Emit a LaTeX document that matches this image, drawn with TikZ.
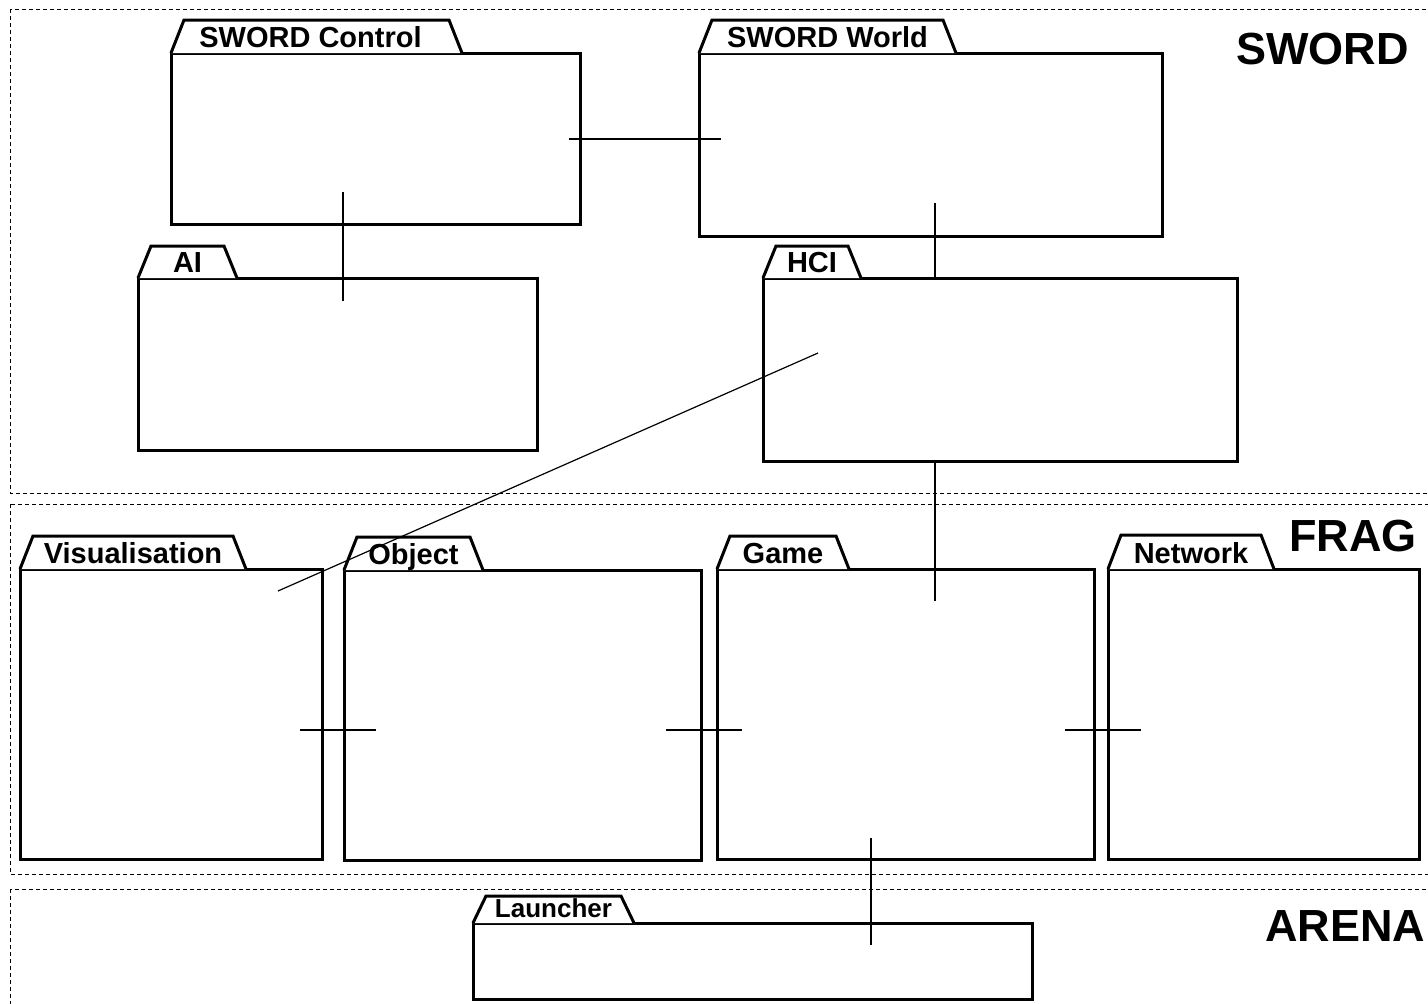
\documentclass[tikz,border=0pt]{standalone}
\usepackage{fontspec}
\setmainfont{Liberation Sans}
\usetikzlibrary{calc}
\tikzset{
  pkgbody/.style={draw, line width=3pt, fill=white, inner sep=0pt, outer sep=0pt},
  pkgtab/.style={draw, line width=3pt, fill=white, line join=miter},
  tablabel/.style={font=\bfseries\fontsize{29}{29}\selectfont, inner sep=0pt, anchor=base},
  smalltablabel/.style={font=\bfseries\fontsize{26}{26}\selectfont, inner sep=0pt, anchor=base},
  layerbox/.style={draw, line width=1pt, dash pattern=on 4pt off 3pt},
  layerlabel/.style={font=\bfseries\fontsize{45}{45}\selectfont, inner sep=0pt, anchor=base west},
  conn/.style={line width=1.2pt},
}
% #1 name, #2 x1, #3 y1, #4 x2, #5 y2, #6 tab width, #7 tab height, #8 label style, #9 label
\newcommand\umlpkg[9]{%
  \pgfmathsetmacro\pkw{#4-#2}%
  \pgfmathsetmacro\pkh{#5-#3}%
  \pgfmathsetmacro\pkx{(#2+#4)/2}%
  \pgfmathsetmacro\pky{(#3+#5)/2}%
  \node[pkgbody, minimum width=\pkw pt, minimum height=\pkh pt] (#1) at (\pkx,\pky) {};
  \draw[pkgtab] (#1.north west) -- ++(13,-#7) -- ++({#6-26},0) -- ++(13,#7);
  \node[#8] (#1-label) at ($(#1.north west)+({#6/2},-6)$) {#9};
}
\begin{document}
\begin{tikzpicture}[x=1pt,y=-1pt]
  \useasboundingbox (0,0) rectangle (1428,1004);
  \clip (0,0) rectangle (1428,1004);
  % layers
  \draw[layerbox] (10,9) rectangle (1445,493);
  \draw[layerbox] (10,504) rectangle (1445,874);
  \draw[layerbox] (10,889) rectangle (1445,1030);
  \node[layerlabel] (swordlbl) at (1236,64) {SWORD};
  \node[layerlabel] (fraglbl) at (1289,551) {FRAG};
  \node[layerlabel] (arenalbl) at (1265,941) {ARENA};
  % packages
  \umlpkg{ctrl}{171}{53}{580}{224}{291}{33}{tablabel,xshift=-6pt}{SWORD Control}
  \umlpkg{world}{699}{53}{1162}{236}{257}{33}{tablabel}{SWORD World}
  \umlpkg{ai}{138}{278}{537}{450}{99}{32}{tablabel}{AI}
  \umlpkg{hci}{763}{278}{1237}{461}{98}{32}{tablabel}{HCI}
  \umlpkg{vis}{20}{569}{322}{859}{226}{33}{tablabel}{Visualisation}
  \umlpkg{obj}{344}{570}{701}{860}{139}{33}{tablabel}{Object}
  \umlpkg{game}{717}{569}{1094}{859}{132}{33}{tablabel}{Game}
  \umlpkg{net}{1108}{569}{1419}{859}{166}{34}{tablabel}{Network}
  \umlpkg{launch}{473}{923}{1032}{999}{161}{27}{smalltablabel}{Launcher}
  % connector end points
  \coordinate (cw1) at (569,139);  \coordinate (cw2) at (721,139);
  \coordinate (ca1) at (343,192);  \coordinate (ca2) at (343,301);
  \coordinate (wh1) at (935,203);  \coordinate (wh2) at (935,278);
  \coordinate (hv1) at (818,353);  \coordinate (hv2) at (278,591);
  \coordinate (hg1) at (935,461);  \coordinate (hg2) at (935,601);
  \coordinate (vo1) at (300,730);  \coordinate (vo2) at (376,730);
  \coordinate (og1) at (666,730);  \coordinate (og2) at (742,730);
  \coordinate (gn1) at (1065,730); \coordinate (gn2) at (1141,730);
  \coordinate (gl1) at (871,838);  \coordinate (gl2) at (871,945);
  % connectors
  \draw[conn] (cw1) -- (cw2);
  \draw[conn] (ca1) -- (ca2);
  \draw[conn] (wh1) -- (wh2);
  \draw[conn] (hv1) -- (hv2);
  \draw[conn] (hg1) -- (hg2);
  \draw[conn] (vo1) -- (vo2);
  \draw[conn] (og1) -- (og2);
  \draw[conn] (gn1) -- (gn2);
  \draw[conn] (gl1) -- (gl2);
\end{tikzpicture}
\end{document}
